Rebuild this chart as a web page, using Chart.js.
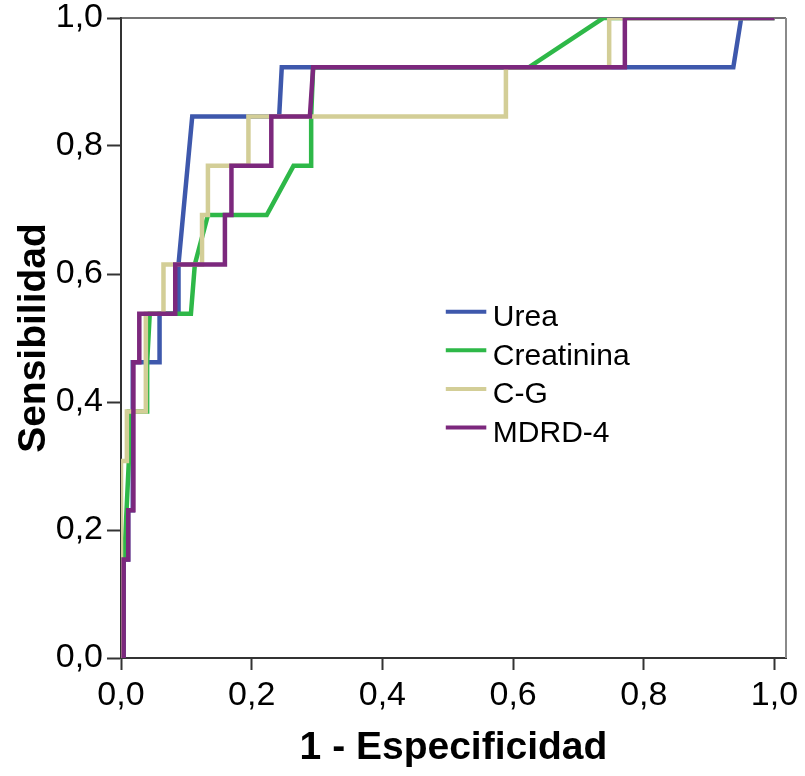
<!DOCTYPE html>
<html>
<head>
<meta charset="utf-8">
<script src="https://cdn.jsdelivr.net/npm/chart.js@4/dist/chart.umd.min.js"></script>
<style>
  html, body { margin: 0; padding: 0; background: #fff; }
  #c { display: block; }
</style>
</head>
<body>
<canvas id="c" width="805" height="776"></canvas>
<script>
// ---- data ----
const seriesNames = ['Urea', 'Creatinina', 'C-G', 'MDRD-4'];
const xTickValues = [0, 0.2, 0.4, 0.6, 0.8, 1.0];
const yTickValues = [0, 0.2, 0.4, 0.6, 0.8, 1.0];

const ureaX = [0.004, 0.004, 0.011, 0.011, 0.018, 0.018, 0.059, 0.059, 0.088, 0.088, 0.109, 0.242, 0.246, 0.937, 0.949, 1.0];
const ureaY = [0, 0.154, 0.154, 0.231, 0.231, 0.462, 0.462, 0.538, 0.538, 0.615, 0.846, 0.846, 0.923, 0.923, 1.0, 1.0];

const creatX = [0.003, 0.003, 0.005, 0.012, 0.012, 0.040, 0.040, 0.044, 0.107, 0.113, 0.133, 0.223, 0.264, 0.291, 0.291, 0.294, 0.624, 0.738, 1.0];
const creatY = [0, 0.154, 0.154, 0.308, 0.385, 0.385, 0.462, 0.538, 0.538, 0.615, 0.692, 0.692, 0.769, 0.769, 0.846, 0.923, 0.923, 1.0, 1.0];

const cgX = [0, 0, 0.009, 0.009, 0.038, 0.038, 0.065, 0.065, 0.124, 0.124, 0.133, 0.133, 0.195, 0.195, 0.589, 0.589, 0.747, 0.747, 1.0];
const cgY = [0, 0.308, 0.308, 0.385, 0.385, 0.538, 0.538, 0.615, 0.615, 0.692, 0.692, 0.769, 0.769, 0.846, 0.846, 0.923, 0.923, 1.0, 1.0];

const mdrdX = [0.004, 0.004, 0.011, 0.011, 0.019, 0.019, 0.028, 0.028, 0.083, 0.083, 0.159, 0.159, 0.169, 0.169, 0.230, 0.230, 0.289, 0.294, 0.771, 0.771, 1.0];
const mdrdY = [0, 0.154, 0.154, 0.231, 0.231, 0.462, 0.462, 0.538, 0.538, 0.615, 0.615, 0.692, 0.692, 0.769, 0.769, 0.846, 0.846, 0.923, 0.923, 1.0, 1.0];

// ---- styling ----
const FONT = "'Liberation Sans', Arial, Helvetica, sans-serif";
const colors = ['#3E58AC', '#2EB848', '#D3CE97', '#7C287D'];
const xs = [ureaX, creatX, cgX, mdrdX];
const ys = [ureaY, creatY, cgY, mdrdY];

const datasets = seriesNames.map((name, i) => ({
  label: name,
  data: xs[i].map((x, k) => ({ x: x, y: ys[i][k] })),
  borderColor: colors[i],
  backgroundColor: colors[i],
  borderWidth: 4.5,
  pointRadius: 0,
  tension: 0,
  fill: false,
  borderJoinStyle: 'miter',
  order: seriesNames.length - 1 - i   // last series drawn on top
}));

const fmt = v => Number(v).toFixed(1).replace('.', ',');

const framePlugin = {
  id: 'frame',
  beforeDatasetsDraw(chart) {
    const { ctx, chartArea: a } = chart;
    ctx.save();
    ctx.lineCap = 'butt';
    ctx.strokeStyle = '#444';
    ctx.lineWidth = 1.5;
    ctx.beginPath();
    ctx.moveTo(a.left, a.top);
    ctx.lineTo(a.right, a.top);
    ctx.stroke();
    ctx.strokeStyle = '#8a8a8a';
    ctx.lineWidth = 2;
    ctx.beginPath();
    ctx.moveTo(a.right, a.top);
    ctx.lineTo(a.right, a.bottom);
    ctx.stroke();
    ctx.restore();
  }
};

const legendPlugin = {
  id: 'innerLegend',
  afterDatasetsDraw(chart) {
    const { ctx, scales } = chart;
    const xs0 = scales.x.getPixelForValue(0.497);
    const xs1 = scales.x.getPixelForValue(0.559);
    const xt = scales.x.getPixelForValue(0.569);
    const y0 = scales.y.getPixelForValue(0.541);
    const step = 38.6;
    ctx.save();
    ctx.font = '30px ' + FONT;
    ctx.fillStyle = '#000';
    ctx.textAlign = 'left';
    ctx.textBaseline = 'alphabetic';
    chart.data.datasets.forEach((ds, i) => {
      const y = y0 + i * step;
      ctx.strokeStyle = ds.borderColor;
      ctx.lineWidth = 4;
      ctx.beginPath();
      ctx.moveTo(xs0, y);
      ctx.lineTo(xs1, y);
      ctx.stroke();
      ctx.fillText(ds.label, xt, y + 14.5);
    });
    ctx.restore();
  }
};

new Chart(document.getElementById('c'), {
  type: 'line',
  data: { datasets: datasets },
  options: {
    responsive: false,
    animation: false,
    devicePixelRatio: 1,
    layout: { padding: { top: 18, right: 19, bottom: 0, left: 0 } },
    plugins: { legend: { display: false }, tooltip: { enabled: false } },
    scales: {
      x: {
        type: 'linear',
        min: 0,
        max: 1.0176,
        afterBuildTicks: s => { s.ticks = xTickValues.map(v => ({ value: v })); },
        afterFit: s => { s.height = 118; s.paddingLeft = 0; s.paddingRight = 0; },
        ticks: {
          callback: v => fmt(v),
          font: { family: FONT, size: 34 },
          color: '#000',
          padding: 5,
          maxRotation: 0,
          autoSkip: false
        },
        grid: { drawOnChartArea: false, drawTicks: true, tickLength: 12, tickColor: '#333', tickWidth: 2 },
        border: { display: true, color: '#333', width: 2 },
        title: {
          display: true,
          text: '1 - Especificidad',
          font: { family: FONT, size: 39, weight: 'bold' },
          color: '#000',
          padding: { top: 0, bottom: 4 }
        }
      },
      y: {
        type: 'linear',
        min: 0,
        max: 1,
        afterBuildTicks: s => { s.ticks = yTickValues.map(v => ({ value: v })); },
        afterFit: s => { s.width = 121; s.paddingTop = 0; s.paddingBottom = 0; },
        ticks: {
          callback: v => fmt(v),
          font: { family: FONT, size: 34 },
          color: '#000',
          padding: 4,
          autoSkip: false
        },
        grid: { drawOnChartArea: false, drawTicks: true, tickLength: 14, tickColor: '#333', tickWidth: 2 },
        border: { display: true, color: '#333', width: 2 },
        title: {
          display: true,
          text: 'Sensibilidad',
          font: { family: FONT, size: 39, weight: 'bold' },
          color: '#000',
          padding: { top: 11, bottom: 0 }
        }
      }
    }
  },
  plugins: [framePlugin, legendPlugin]
});
</script>
</body>
</html>
